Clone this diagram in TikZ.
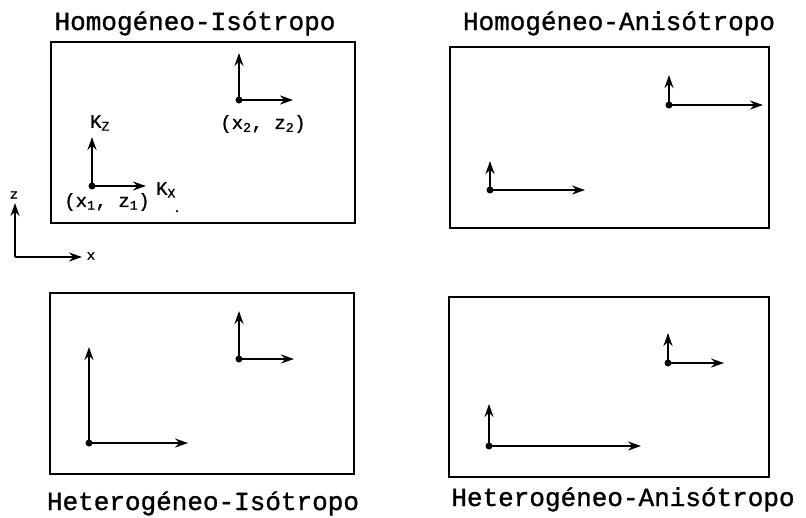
\documentclass[tikz,border=0pt]{standalone}
\usepackage{fontspec}
\setmonofont{Liberation Mono}
\newfontfamily\twfont[FakeBold=1.2]{Liberation Mono}
\usetikzlibrary{arrows.meta}
\begin{document}
\begin{tikzpicture}[x=1pt,y=-1pt,
  panel/.style={draw,line width=2.6pt},
  vec/.style={line width=2.6pt,-{Stealth[length=13pt,width=9pt]}},
  dot/.style={fill,circle,inner sep=0pt,minimum size=7pt},
  title/.style={font=\twfont\fontsize{26}{26}\selectfont,inner sep=0pt,anchor=base},
  lab/.style={font=\twfont\fontsize{19}{19}\selectfont,inner sep=0pt}]
\useasboundingbox (0,0) rectangle (806,517);
% titles
\node[title] (t1) at (195,30) {Homogéneo-Isótropo};
\node[title] (t2) at (619,30) {Homogéneo-Anisótropo};
\node[title] (t3) at (203,510) {Heterogéneo-Isótropo};
\node[title] (t4) at (623,506) {Heterogéneo-Anisótropo};
% boxes
\draw[panel] (51,42) rectangle (355,223);
\draw[panel] (450,47) rectangle (769,228);
\draw[panel] (50,293) rectangle (354,474);
\draw[panel] (449,297) rectangle (769,477);
% global axes
\coordinate (g0) at (15,257);
\coordinate (gz) at (15,203);
\coordinate (gx) at (82,257);
\draw[vec] (g0) -- (gz);
\draw[vec] (g0) -- (gx);
\node[lab,font=\twfont\fontsize{14}{14}\selectfont] (lz) at (14,195) {z};
\node[lab,font=\twfont\fontsize{14}{14}\selectfont] (lx) at (91,256) {x};
% panel 1
\node[dot] (a1) at (92,186) {};
\coordinate (a1z) at (92,137);
\coordinate (a1x) at (146,186);
\draw[vec] (a1.center) -- (a1z);
\draw[vec] (a1.center) -- (a1x);
\node[dot] (b1) at (239,100) {};
\coordinate (b1z) at (239,53);
\coordinate (b1x) at (293,100);
\draw[vec] (b1.center) -- (b1z);
\draw[vec] (b1.center) -- (b1x);
\node[lab] (kz) at (100,123) {K\textsubscript{Z}};
\node[lab] (kx) at (166,190) {K\textsubscript{X}};
\node[lab] (p1) at (107,202) {(x\textsubscript{1}, z\textsubscript{1})};
\node[lab] (p2) at (263,124) {(x\textsubscript{2}, z\textsubscript{2})};
\node[fill,circle,inner sep=0pt,minimum size=2.5pt] (sd) at (177,211) {};
% panel 2
\node[dot] (a2) at (490,190) {};
\coordinate (a2z) at (490,161);
\coordinate (a2x) at (585,190);
\draw[vec] (a2.center) -- (a2z);
\draw[vec] (a2.center) -- (a2x);
\node[dot] (b2) at (669,105) {};
\coordinate (b2z) at (669,75);
\coordinate (b2x) at (763,105);
\draw[vec] (b2.center) -- (b2z);
\draw[vec] (b2.center) -- (b2x);
% panel 3
\node[dot] (a3) at (89,443) {};
\coordinate (a3z) at (89,347);
\coordinate (a3x) at (188,443);
\draw[vec] (a3.center) -- (a3z);
\draw[vec] (a3.center) -- (a3x);
\node[dot] (b3) at (239,359) {};
\coordinate (b3z) at (239,311);
\coordinate (b3x) at (294,359);
\draw[vec] (b3.center) -- (b3z);
\draw[vec] (b3.center) -- (b3x);
% panel 4
\node[dot] (a4) at (489,446) {};
\coordinate (a4z) at (489,404);
\coordinate (a4x) at (641,446);
\draw[vec] (a4.center) -- (a4z);
\draw[vec] (a4.center) -- (a4x);
\node[dot] (b4) at (668,363) {};
\coordinate (b4z) at (668,333);
\coordinate (b4x) at (724,363);
\draw[vec] (b4.center) -- (b4z);
\draw[vec] (b4.center) -- (b4x);
\end{tikzpicture}
\end{document}
